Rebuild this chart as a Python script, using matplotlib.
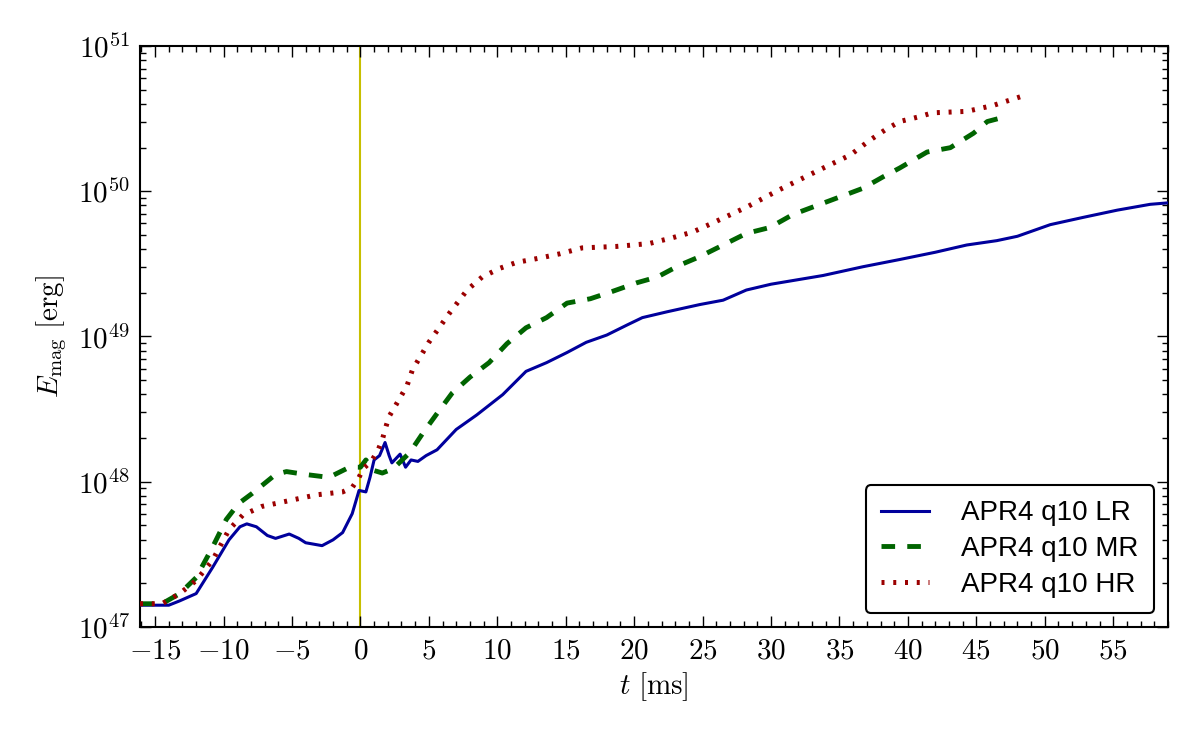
import numpy as np
import matplotlib
matplotlib.use('Agg')
import matplotlib.pyplot as plt
from matplotlib.ticker import FixedLocator, MultipleLocator, FuncFormatter, LogLocator, NullFormatter

plt.rcParams['mathtext.fontset'] = 'cm'

# Low resolution run (time in ms, log10 of energy in erg)
t_lr = [-16.1, -15.0, -14.0, -13.2, -12.0, -10.8, -9.6, -8.8, -8.3, -7.6, -6.8, -6.2,
        -5.2, -4.5, -4.0, -2.8, -2.0, -1.3, -0.6, -0.1, 0.4, 0.7, 1.0, 1.4, 1.8,
        2.1, 2.3, 2.9, 3.3, 3.7, 4.2, 4.8, 5.6, 7.0, 8.5, 10.4, 12.1, 13.6, 15.1,
        16.5, 18.0, 19.5, 20.6, 22.4, 24.8, 26.5, 28.2, 30.0, 31.9, 33.8, 36.7,
        39.4, 42.0, 44.3, 46.5, 48.0, 50.4, 52.8, 55.3, 57.7, 59.0]
e_lr = [47.15, 47.15, 47.15, 47.18, 47.23, 47.41, 47.60, 47.69, 47.71, 47.69, 47.63, 47.61,
        47.64, 47.61, 47.58, 47.56, 47.60, 47.65, 47.78, 47.94, 47.93, 48.03, 48.15, 48.18, 48.27,
        48.18, 48.13, 48.19, 48.10, 48.15, 48.14, 48.18, 48.22, 48.36, 48.46, 48.60, 48.76, 48.82, 48.89,
        48.96, 49.01, 49.08, 49.13, 49.17, 49.22, 49.25, 49.32, 49.36, 49.39, 49.42, 49.48,
        49.53, 49.58, 49.63, 49.66, 49.69, 49.77, 49.82, 49.87, 49.91, 49.92]

# Medium resolution run
t_mr = [-16.1, -14.5, -13.2, -12.0, -10.8, -9.8, -8.9, -7.9, -6.2, -5.4, -4.0, -2.3,
        -0.8, 0.0, 0.4, 0.9, 1.6, 2.4, 3.6, 4.6, 5.6, 6.7, 8.0, 9.4, 10.7, 12.1, 13.6,
        15.1, 16.8, 18.4, 20.2, 21.7, 23.3, 24.8, 26.5, 28.2, 29.9, 31.6, 33.3, 35.0,
        36.7, 38.2, 39.4, 41.4, 43.1, 44.8, 45.8, 46.6]
e_mr = [47.16, 47.16, 47.23, 47.34, 47.55, 47.74, 47.85, 47.92, 48.05, 48.07, 48.05, 48.03,
        48.10, 48.10, 48.15, 48.08, 48.06, 48.09, 48.20, 48.34, 48.47, 48.61, 48.72, 48.82, 48.95, 49.06, 49.13,
        49.23, 49.26, 49.31, 49.37, 49.41, 49.49, 49.55, 49.63, 49.71, 49.75, 49.84, 49.90, 49.96,
        50.02, 50.10, 50.16, 50.27, 50.30, 50.40, 50.48, 50.50]

# High resolution run
t_hr = [-16.1, -15.4, -14.5, -13.2, -12.0, -10.8, -9.6, -8.6, -7.2, -5.2, -3.2, -1.3,
        -0.6, -0.1, 0.2, 0.8, 1.3, 1.6, 1.9, 2.1, 2.6, 3.4, 3.8, 5.0, 6.5, 7.8, 8.9,
        10.2, 11.4, 13.1, 14.6, 16.2, 18.7, 21.1, 22.8, 24.3, 25.7, 28.2, 30.6, 33.6,
        35.8, 37.2, 38.3, 39.4, 40.7, 41.8, 44.3, 46.2, 48.2]
e_hr = [47.16, 47.16, 47.16, 47.23, 47.32, 47.46, 47.67, 47.77, 47.83, 47.87, 47.91, 47.93,
        47.96, 48.03, 48.09, 48.14, 48.22, 48.29, 48.39, 48.45, 48.53, 48.66, 48.77, 48.96, 49.16, 49.32, 49.41,
        49.47, 49.51, 49.54, 49.57, 49.61, 49.62, 49.64, 49.68, 49.72, 49.78, 49.89, 50.01, 50.15,
        50.25, 50.35, 50.42, 50.48, 50.51, 50.54, 50.55, 50.59, 50.65]

labels = ['APR4 q10 LR', 'APR4 q10 MR', 'APR4 q10 HR']
x_ticks = list(range(-15, 60, 5))

fig = plt.figure(figsize=(12, 7.42), dpi=100)
ax = fig.add_axes([0.1167, 0.155, 0.8566, 0.783])

ax.axvline(0, color=(0.78, 0.75, 0.0), lw=1.5, zorder=1)
ax.plot(t_lr, 10 ** np.array(e_lr), color='#00009c', lw=2.2, ls='-', label=labels[0], zorder=3)
ax.plot(t_mr, 10 ** np.array(e_mr), color='#006400', lw=3.5, ls=(0, (2.8, 2.5)), label=labels[1], zorder=3)
ax.plot(t_hr, 10 ** np.array(e_hr), color='#9b0000', lw=3.6, ls=(0, (0.6, 1.75)), label=labels[2], zorder=3)

ax.set_yscale('log')
ax.set_xlim(-16.1, 59.0)
ax.set_ylim(1e47, 1e51)

ax.xaxis.set_major_locator(FixedLocator(x_ticks))
ax.xaxis.set_minor_locator(MultipleLocator(1))
ax.xaxis.set_major_formatter(FuncFormatter(lambda v, p: r'$%d$' % v))
ax.yaxis.set_major_locator(LogLocator(base=10, numticks=10))
ax.yaxis.set_minor_locator(LogLocator(base=10, subs=np.arange(2, 10), numticks=20))
ax.yaxis.set_major_formatter(FuncFormatter(lambda v, p: r'$10^{%d}$' % round(np.log10(v))))
ax.yaxis.set_minor_formatter(NullFormatter())

ax.tick_params(which='both', direction='in', top=True, right=True, labelsize=21, pad=7)
ax.tick_params(which='major', length=8, width=1)
ax.tick_params(which='minor', length=4, width=1)
for s in ax.spines.values():
    s.set_linewidth(1.5)

ax.set_xlabel(r'$t\ [\mathrm{ms}]$', fontsize=21, labelpad=4)
ax.set_ylabel(r'$E_{\mathrm{mag}}\ [\mathrm{erg}]$', fontsize=21, labelpad=6)

leg = ax.legend(loc='lower right', prop={'family': 'Liberation Sans', 'size': 20},
                frameon=True, fancybox=True, framealpha=1, edgecolor='black',
                handlelength=1.75, handletextpad=1.15, borderpad=0.55, labelspacing=0.35,
                borderaxespad=0.5)
leg.get_frame().set_linewidth(1.5)

fig.savefig('out.png', dpi=100)
